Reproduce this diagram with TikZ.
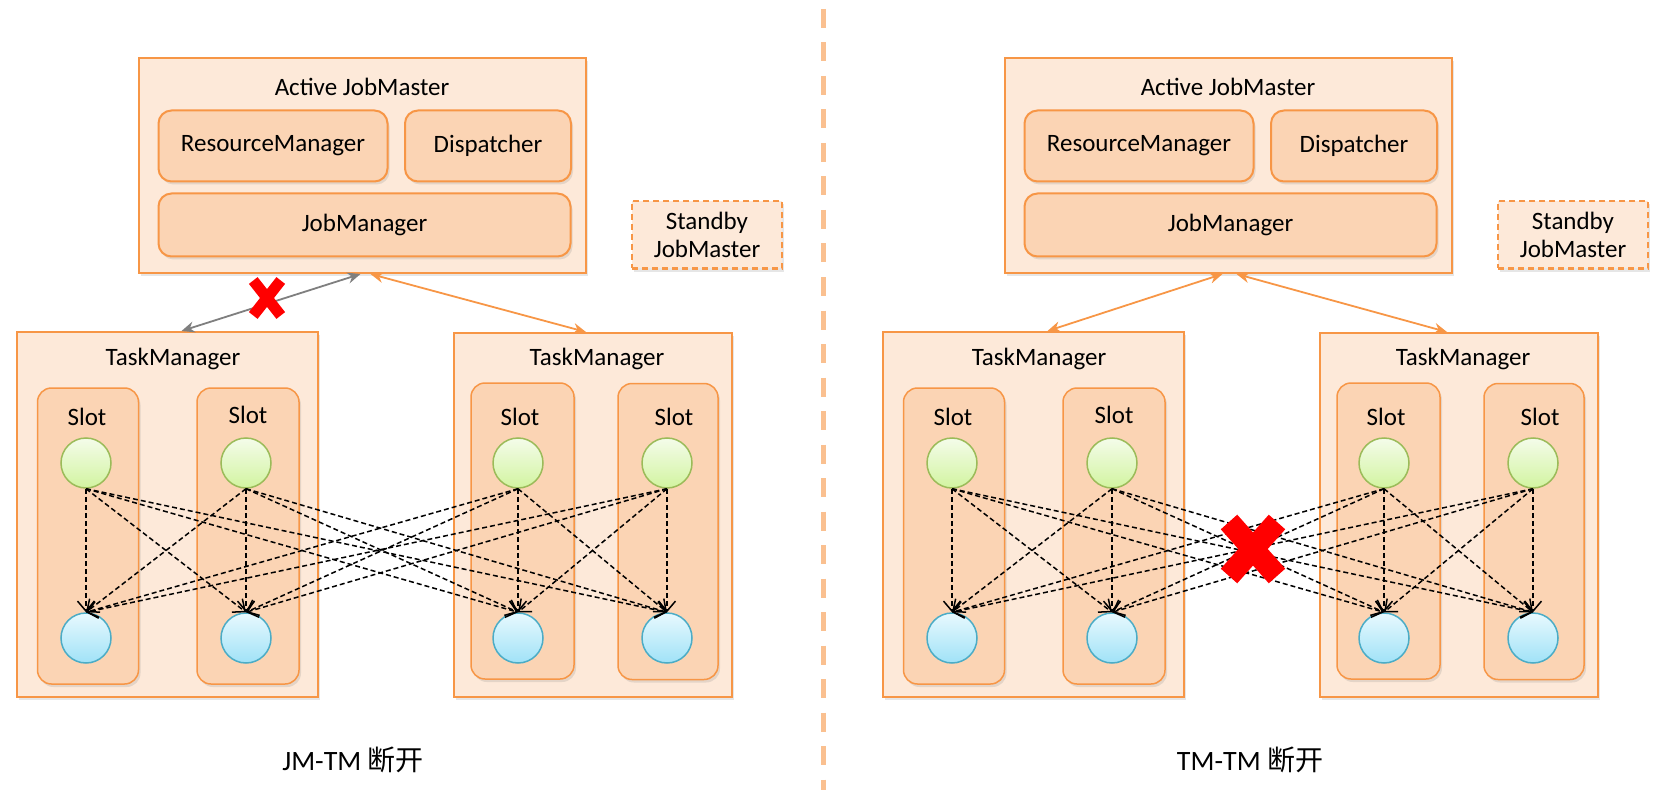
\documentclass[tikz,border=0pt]{standalone}
\usepackage{fontspec}
\setmainfont{Carlito}
\newfontfamily\cjk{Noto Sans CJK SC}
\usetikzlibrary{arrows.meta,calc,shadows,shapes.misc}
\definecolor{jmorange}{HTML}{F79646}
\definecolor{jmpale}{HTML}{FDE9D9}
\definecolor{jmpeach}{HTML}{FBD4B4}
\definecolor{jmgreen}{HTML}{9BBB59}
\definecolor{jmgreentop}{HTML}{F4FCEA}
\definecolor{jmgreenbot}{HTML}{D2F4A0}
\definecolor{jmblue}{HTML}{4BACC6}
\definecolor{jmbluetop}{HTML}{E8F9FE}
\definecolor{jmbluebot}{HTML}{A0E2F7}
\definecolor{jmgrey}{HTML}{7F7F7F}
\definecolor{jmsplit}{HTML}{FAC090}
\newcommand\jobpanel[1]{
  \node [outerbox,minimum width=447,minimum height=215] (#1ajm) at (362.5,-165.5) {};
  \node (#1ajmlab) at (362,-87) {Active JobMaster};
  \node [innerbox,minimum width=229,minimum height=71] (#1rm) at (273,-146) {ResourceManager};
  \node [innerbox,minimum width=166,minimum height=71] (#1disp) at (488,-146) {Dispatcher};
  \node [innerbox,minimum width=412,minimum height=63] (#1jm) at (364.5,-225) {JobManager};
  \node [sparebox,minimum width=150,minimum height=67] (#1spare) at (707,-235) {Standby\\JobMaster};
  \node [outerbox,minimum width=301,minimum height=365] (#1tma) at (167.5,-514.5) {};
  \node (#1tmalab) at (173,-359) {TaskManager};
  \node [outerbox,minimum width=278,minimum height=364] (#1tmb) at (593,-515) {};
  \node (#1tmblab) at (597,-359) {TaskManager};
  \foreach \n/\x/\y/\w/\lx/\ly/\cx in {a/88/-536/101/87/-417/86,b/248/-536/102/248/-415/246,
    c/522.5/-531/103/520/-417/518,d/668/-531.5/100/674/-417/667} {
    \node [slotbox,minimum width=\w,minimum height=296] (#1s\n) at (\x,\y) {};
    \node (#1s\n lab) at (\lx,\ly) {Slot};
    \node [upcircle] (#1g\n) at (\cx,-463) {};
    \node [downcircle] (#1b\n) at (\cx,-638) {};
  }
  \foreach \s in {a,b,c,d}
    \foreach \t in {a,b,c,d}
      \draw [flow] (#1g\s.south) -- (#1b\t.north);
}

\begin{document}
\begin{tikzpicture}[x=1pt,y=1pt,
  every node/.style={inner sep=1pt,font=\fontsize{25}{28}\selectfont},
  softshadow/.style={drop shadow={shadow xshift=2pt,shadow yshift=-3pt,opacity=0.2}},
  outerbox/.style={draw=jmorange,fill=jmpale,line width=2pt,softshadow},
  innerbox/.style={outerbox,fill=jmpeach,rounded corners=13pt},
  sparebox/.style={draw=jmorange,fill=jmpale,line width=2pt,dash pattern=on 6pt off 4pt,align=center,softshadow},
  slotbox/.style={draw=jmorange,fill=jmpeach,line width=1.5pt,rounded corners=14pt,softshadow},
  upcircle/.style={circle,minimum size=50pt,draw=jmgreen,line width=1.5pt,top color=jmgreentop,bottom color=jmgreenbot},
  downcircle/.style={circle,minimum size=50pt,draw=jmblue,line width=1.5pt,top color=jmbluetop,bottom color=jmbluebot},
  flow/.style={black,line width=1.5pt,dash pattern=on 5pt off 3pt,-{Straight Barb[length=10pt,width=17pt]}},
  link/.style={jmorange,line width=1.8pt,{Stealth[length=13pt,width=11pt]}-{Stealth[length=13pt,width=11pt]}},
  cutmark/.style={cross out,draw=red,inner sep=0pt,outer sep=0pt},
  divider/.style={jmsplit,line width=5pt,dash pattern=on 19pt off 14.5pt},
  caption/.style={font=\fontsize{28}{32}\selectfont}]
  \useasboundingbox (0,0) rectangle (1664,-802);

  \jobpanel{l}
  \begin{scope}[xshift=866]
    \jobpanel{r}
  \end{scope}

  % JobMaster <-> TaskManager
  \draw [link,jmgrey] ($(lajm.south)+(-2,0)$) -- ($(ltma.north)+(14,0)$);
  \draw [link] ($(lajm.south)+(8,0)$) -- ($(ltmb.north)+(-7,0)$);
  \draw [link] ($(rajm.south)+(-6,0)$) -- ($(rtma.north)+(14,0)$);
  \draw [link] ($(rajm.south)+(8,0)$) -- ($(rtmb.north)+(-12,0)$);

  \node [cutmark,line width=11pt,minimum width=27.5pt,minimum height=35pt] (lcut) at (267,-298) {};
  \node [cutmark,line width=22pt,minimum width=48pt,minimum height=54pt] (rcut) at (1253,-549) {};

  \draw [divider] (823,-9) -- (823,-790);

  \node [caption] (jmtmcap) at (353,-760) {JM-TM {\cjk 断开}};
  \node [caption] (tmtmcap) at (1250,-760) {TM-TM {\cjk 断开}};
\end{tikzpicture}
\end{document}
